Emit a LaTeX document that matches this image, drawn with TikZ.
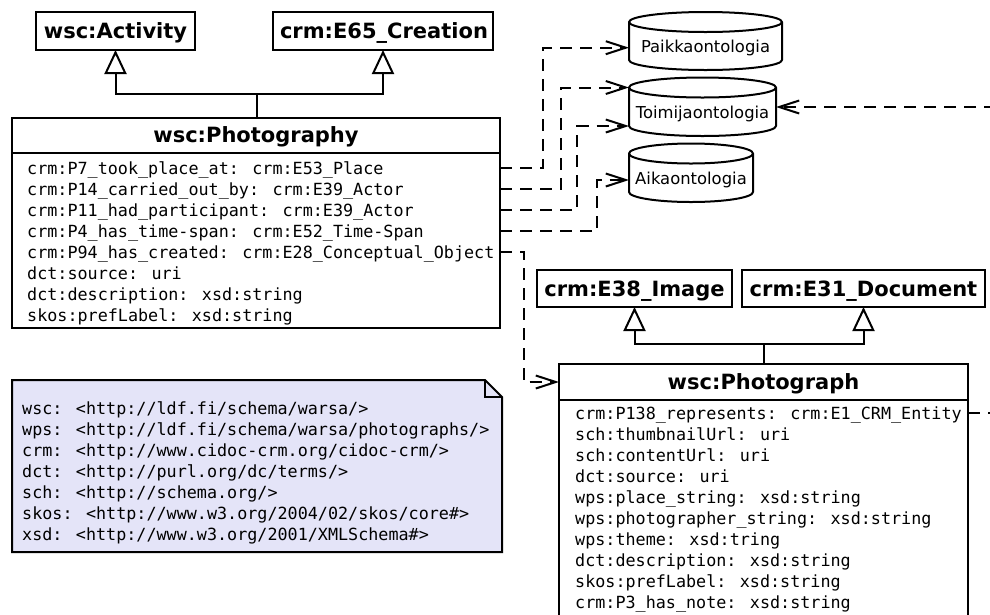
\documentclass[tikz,border=0pt]{standalone}
\usepackage{fontspec}
\setmainfont{DejaVu Sans}
\newfontfamily\monofont{DejaVu Sans Mono}
\usetikzlibrary{arrows.meta}
\definecolor{notefill}{RGB}{228,228,248}
\newcommand\cylshape[4]{%
 \pgfmathsetmacro\cM{(#1+#2)/2}%
 \pgfmathsetmacro\cK{(#2-#1)/2*0.5523}%
 \draw[line width=2pt, fill=white, line join=round]
   (#1,#4) -- (#1,#3)
   .. controls (#1,#3-5.523) and (\cM-\cK,#3-10) .. (\cM,#3-10)
   .. controls (\cM+\cK,#3-10) and (#2,#3-5.523) .. (#2,#3)
   -- (#2,#4)
   .. controls (#2,#4+5.523) and (\cM+\cK,#4+10) .. (\cM,#4+10)
   .. controls (\cM-\cK,#4+10) and (#1,#4+5.523) .. (#1,#4) -- cycle;
 \draw[line width=2pt]
   (#1,#3) .. controls (#1,#3+5.523) and (\cM-\cK,#3+10) .. (\cM,#3+10)
   .. controls (\cM+\cK,#3+10) and (#2,#3+5.523) .. (#2,#3);
}
\begin{document}
\begin{tikzpicture}[x=1pt,y=-1pt,
  rect/.style={draw, line width=2pt, fill=white, inner sep=0pt, outer sep=0pt},
  area/.style={inner sep=0pt, outer sep=0pt},
  hdr/.style={font=\fontsize{21}{25}\selectfont\bfseries, anchor=base, inner sep=0pt},
  row/.style={font=\monofont\fontsize{16.75}{21}\selectfont, anchor=base west, inner sep=0pt},
  lbl/.style={font=\fontsize{16.4}{20}\selectfont, anchor=base, inner sep=0pt},
  dep/.style={line width=2pt, dash pattern=on 12pt off 8pt, -{Straight Barb[length=20pt,width=13pt,line width=2pt]}},
  depline/.style={line width=2pt, dash pattern=on 12pt off 8pt},
  gen/.style={line width=2pt, -{Triangle[open,length=24pt,width=22pt,line width=2pt]}},
]
\useasboundingbox (0,0) rectangle (990,614);
\clip (0,0) rectangle (990,614);

% ---------- top super classes ----------
\node[rect, minimum width=159pt, minimum height=38pt] (act) at (115.5,31) {};
\node[hdr] (actt) at (115.5,38.5) {wsc:Activity};
\node[rect, minimum width=220pt, minimum height=38pt] (crea) at (383,31) {};
\node[hdr] (creat) at (384,38.5) {crm:E65\_Creation};

% ---------- wsc:Photography ----------
\node[rect, minimum width=488pt, minimum height=210pt] (phy) at (256,223) {};
\draw[line width=2pt] (phy.west |- 0,153) -- (phy.east |- 0,153);
\node[hdr] (phyt) at (256,142.7) {wsc:Photography};
\node[row] (r0) at (27,174) {crm:P7\_took\_place\_at: crm:E53\_Place};
\node[row] (r1) at (27,195) {crm:P14\_carried\_out\_by: crm:E39\_Actor};
\node[row] (r2) at (27,216) {crm:P11\_had\_participant: crm:E39\_Actor};
\node[row] (r3) at (27,237) {crm:P4\_has\_time-span: crm:E52\_Time-Span};
\node[row] (r4) at (27,258) {crm:P94\_has\_created: crm:E28\_Conceptual\_Object};
\node[row] (r5) at (27,279) {dct:source: uri};
\node[row] (r6) at (27,300) {dct:description: xsd:string};
\node[row] (r7) at (27,321) {skos:prefLabel: xsd:string};
\coordinate (s0) at (27,167.5);
\coordinate (s1) at (27,188.5);
\coordinate (s2) at (27,209.5);
\coordinate (s3) at (27,230.5);
\coordinate (s4) at (27,251.5);

% generalisation
\coordinate (j1) at (256.5,93.5);
\draw[gen] (phy.north -| j1) -- (j1) -| (act.south);
\draw[gen] (j1) -| (crea.south);

% ---------- ontologies (cylinders) ----------
\cylshape{629}{782}{22}{60}
\node[area, minimum width=153pt, minimum height=38pt] (pk) at (705.5,41) {};
\node[lbl] (pkt) at (705.5,52.2) {Paikkaontologia};
\cylshape{629}{776}{87.5}{126}
\node[area, minimum width=147pt, minimum height=38.5pt] (tm) at (702.5,106.75) {};
\node[lbl] (tmt) at (702.5,118.3) {Toimijaontologia};
\cylshape{629}{753}{153.5}{192}
\node[area, minimum width=124pt, minimum height=38.5pt] (ak) at (691,172.75) {};
\node[lbl] (akt) at (691,184.3) {Aikaontologia};

% ---------- dependencies ----------
\coordinate (k1) at (543.3,47.7);
\coordinate (k2) at (561,87.5);
\coordinate (k3) at (577,126);
\coordinate (k4) at (597.3,180);
\coordinate (k5) at (523.5,382);
\draw[dep] (phy.east |- s0) -| (k1) -- (pk.west |- k1);
\draw[dep] (phy.east |- s1) -| (k2) -- (tm.west |- k2);
\draw[dep] (phy.east |- s2) -| (k3) -- (tm.west |- k3);
\draw[dep] (phy.east |- s3) -| (k4) -- (ak.west |- k4);

% ---------- image / document ----------
\node[rect, minimum width=195pt, minimum height=37pt] (img) at (634.5,288.5) {};
\node[hdr] (imgt) at (634.5,296) {crm:E38\_Image};
\node[rect, minimum width=243pt, minimum height=37pt] (doc) at (863.5,288.5) {};
\node[hdr] (doct) at (863.5,296) {crm:E31\_Document};

% ---------- wsc:Photograph ----------
\node[rect, minimum width=409pt, minimum height=266pt] (phg) at (763.5,497) {};
\draw[line width=2pt] (phg.west |- 0,400) -- (phg.east |- 0,400);
\node[hdr] (phgt) at (763.5,389) {wsc:Photograph};
\node[row] (q0) at (575,419) {crm:P138\_represents: crm:E1\_CRM\_Entity};
\node[row] (q1) at (575,440) {sch:thumbnailUrl: uri};
\node[row] (q2) at (575,461) {sch:contentUrl: uri};
\node[row] (q3) at (575,482) {dct:source: uri};
\node[row] (q4) at (575,503) {wps:place\_string: xsd:string};
\node[row] (q5) at (575,524) {wps:photographer\_string: xsd:string};
\node[row] (q6) at (575,545) {wps:theme: xsd:tring};
\node[row] (q7) at (575,566) {dct:description: xsd:string};
\node[row] (q8) at (575,587) {skos:prefLabel: xsd:string};
\node[row] (q9) at (575,608) {crm:P3\_has\_note: xsd:string};
\coordinate (t0) at (575,413);

\coordinate (j2) at (764,344);
\draw[gen] (phg.north -| j2) -- (j2) -| (img.south);
\draw[gen] (j2) -| (doc.south);

\draw[dep] (phy.east |- s4) -| (k5) -- (phg.west |- k5);

% off-picture connectors
\coordinate (e1) at (996,107);
\coordinate (e2) at (996,413);
\draw[dep] (e1) -- (tm.east |- e1);
\draw[depline] (phg.east |- t0) -- (e2);

% ---------- namespace note ----------
\draw[line width=2pt, fill=notefill, line join=miter]
  (12,380) -- (485,380) -- (502,397) -- (502,552) -- (12,552) -- cycle;
\draw[line width=1.2pt] (485,380) -- (485,397) -- (502,397);
\node[row] (n0) at (22,414) {wsc: <http://ldf.fi/schema/warsa/>};
\node[row] (n1) at (22,435) {wps: <http://ldf.fi/schema/warsa/photographs/>};
\node[row] (n2) at (22,456) {crm: <http://www.cidoc-crm.org/cidoc-crm/>};
\node[row] (n3) at (22,477) {dct: <http://purl.org/dc/terms/>};
\node[row] (n4) at (22,498) {sch: <http://schema.org/>};
\node[row] (n5) at (22,519) {skos: <http://www.w3.org/2004/02/skos/core\#>};
\node[row] (n6) at (22,540) {xsd: <http://www.w3.org/2001/XMLSchema\#>};
\end{tikzpicture}
\end{document}
